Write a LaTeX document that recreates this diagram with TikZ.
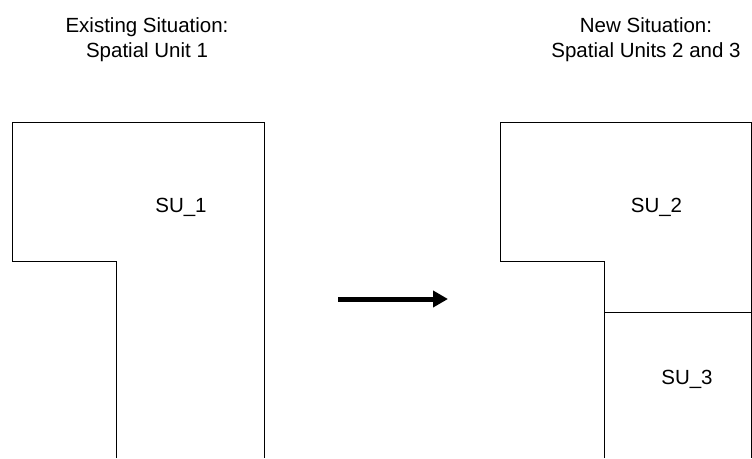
\documentclass[tikz,border=0pt]{standalone}
\usepackage{fontspec}
\setmainfont{Liberation Sans}
\usetikzlibrary{arrows.meta}

\begin{document}
\begin{tikzpicture}[
        x=1pt, y=-1pt,
        line width=1pt,
        title/.style={align=center, inner sep=0pt, font=\fontsize{20.5}{25}\selectfont},
        unit/.style={inner sep=0pt, font=\fontsize{20.5}{24}\selectfont},
        change/.style={line width=5pt, -{Triangle[length=15pt, width=16pt]}}
    ]

    \useasboundingbox (0,0) rectangle (752,458);

    % titles
    \node (oldtitle) [title] at (147,40) {Existing Situation:\\Spatial Unit 1};
    \node (newtitle) [title] at (646,40) {New Situation:\\Spatial Units 2 and 3};

    % existing parcel
    \draw (116.5,458) -- (116.5,261.5) -- (12.5,261.5) -- (12.5,122)
        -- (264.5,122) -- (264.5,458);
    \node (su1) [unit] at (181,207) {SU\_1};

    % new parcels
    \draw (604.5,458) -- (604.5,261.5) -- (500.5,261.5) -- (500.5,122)
        -- (751.5,122) -- (751.5,458);
    \draw (604.5,312.5) -- (751.5,312.5);
    \node (su2) [unit] at (656.5,207) {SU\_2};
    \node (su3) [unit] at (687,379) {SU\_3};

    % arrow
    \coordinate (from) at (338,299);
    \coordinate (to) at (448,299);
    \draw [change] (from) -- (to);

\end{tikzpicture}
\end{document}
